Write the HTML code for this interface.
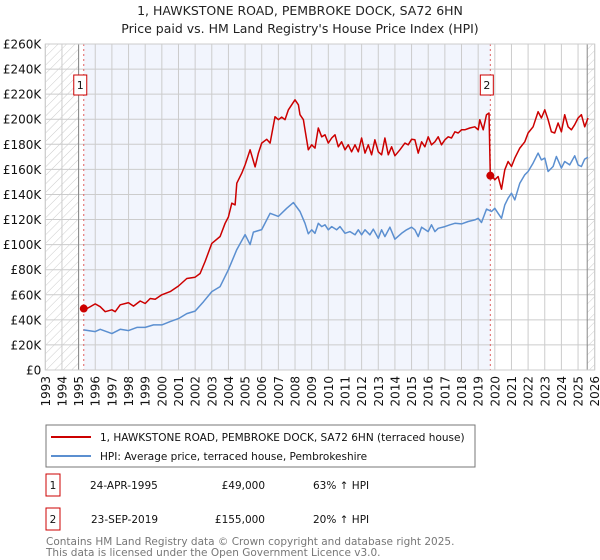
<!DOCTYPE html>
<html><head><meta charset="utf-8"><style>
body{margin:0;background:#fff;width:600px;height:560px;overflow:hidden;font-family:"DejaVu Sans","Liberation Sans",sans-serif;}
svg{display:block}
</style></head><body>
<svg id="chart" width="600" height="560" xmlns="http://www.w3.org/2000/svg">
<defs>
<pattern id="hatch" width="6" height="6" patternUnits="userSpaceOnUse" patternTransform="rotate(45)">
<line x1="0" y1="0" x2="0" y2="6" stroke="#ccc" stroke-width="1"/>
</pattern>
</defs>
<text x="300" y="15" text-anchor="middle" font-size="12.5" fill="#222">1, HAWKSTONE ROAD, PEMBROKE DOCK, SA72 6HN</text>
<text x="300" y="33" text-anchor="middle" font-size="12.5" fill="#222">Price paid vs. HM Land Registry's House Price Index (HPI)</text>
<g id="plot"></g>
<g id="legend">
<rect x="46" y="425" width="429" height="42" fill="#fff" stroke="#777"/>
<line x1="51" y1="437" x2="91" y2="437" stroke="#cc0000" stroke-width="2"/>
<text x="100" y="441" font-size="10.5" fill="#111">1, HAWKSTONE ROAD, PEMBROKE DOCK, SA72 6HN (terraced house)</text>
<line x1="51" y1="456" x2="91" y2="456" stroke="#5b8fd0" stroke-width="2"/>
<text x="100" y="460" font-size="10.5" fill="#111">HPI: Average price, terraced house, Pembrokeshire</text>
</g>
<g font-size="10.5" fill="#111">
<rect x="46" y="474" width="14" height="22" fill="#fff" stroke="#cc0000"/>
<text x="53" y="489" text-anchor="middle">1</text>
<text x="90" y="489">24-APR-1995</text>
<text x="265" y="489" text-anchor="end">£49,000</text>
<text x="313" y="489">63% ↑ HPI</text>
<rect x="46" y="508" width="14" height="22" fill="#fff" stroke="#cc0000"/>
<text x="53" y="523" text-anchor="middle">2</text>
<text x="91" y="523">23-SEP-2019</text>
<text x="265" y="523" text-anchor="end">£155,000</text>
<text x="313" y="523">20% ↑ HPI</text>
</g>
<text x="46" y="545" font-size="10.5" fill="#777">Contains HM Land Registry data © Crown copyright and database right 2025.</text>
<text x="46" y="556" font-size="10.5" fill="#777">This data is licensed under the Open Government Licence v3.0.</text>
</svg>
<script>
const yTicks=[0,20,40,60,80,100,120,140,160,180,200,220,240,260];
const yTickLabels=["£0","£20K","£40K","£60K","£80K","£100K","£120K","£140K","£160K","£180K","£200K","£220K","£240K","£260K"];
const xYears=[1993,1994,1995,1996,1997,1998,1999,2000,2001,2002,2003,2004,2005,2006,2007,2008,2009,2010,2011,2012,2013,2014,2015,2016,2017,2018,2019,2020,2021,2022,2023,2024,2025,2026];
const saleDates=[1995.31,2019.73];
const salePrices=[49,155];
const saleLabels=["1","2"];
const hpiT=[1995.3,1996,1996.3,1997,1997.5,1998,1998.5,1999,1999.5,2000,2000.5,2001,2001.5,2002,2002.5,2003,2003.5,2004,2004.5,2005,2005.3,2005.5,2006,2006.5,2007,2007.5,2007.9,2008.3,2008.6,2008.8,2009,2009.2,2009.4,2009.6,2009.8,2010,2010.2,2010.5,2010.7,2011,2011.3,2011.6,2011.8,2012,2012.2,2012.5,2012.7,2013,2013.2,2013.4,2013.7,2014,2014.4,2014.7,2015,2015.2,2015.4,2015.6,2016,2016.2,2016.4,2016.6,2017,2017.3,2017.6,2018,2018.4,2018.8,2019,2019.2,2019.5,2019.8,2020,2020.2,2020.4,2020.6,2020.8,2021,2021.2,2021.5,2021.8,2022,2022.3,2022.6,2022.8,2023,2023.2,2023.5,2023.7,2024,2024.2,2024.5,2024.8,2025,2025.2,2025.4,2025.6];
const hpiV=[32,30.6,32.5,29,32.5,31.4,34,34,36,36,38.6,41,45,47,54.5,62.5,66.5,80,96,108,100,110,112,125,122.5,129,133.5,126.4,117,108.6,111.8,109,117,114.4,115.8,111.8,114.4,111.8,114.4,109,110.4,107.8,111.8,107.8,111.8,107.8,112.3,105,111.8,106.4,113.9,104.3,109,111.8,113.9,111.8,106.4,113.9,110.4,115.8,110.4,113,114.4,115.8,117,116.5,118.4,119.7,121,117.6,128.3,126.4,129,125,121,131.7,137,141,135.7,149,155.7,158.3,165,173,167.6,169,158.3,162.3,170.3,161,166.3,163.6,170.8,163.6,162.3,168.2,169.8];
const propT=[1995.31,1995.5,1996,1996.3,1996.6,1997,1997.2,1997.5,1998,1998.3,1998.7,1999,1999.3,1999.6,2000,2000.5,2001,2001.5,2002,2002.3,2002.6,2003,2003.5,2003.8,2004,2004.2,2004.4,2004.5,2004.8,2005,2005.3,2005.6,2005.8,2006,2006.3,2006.5,2006.8,2007,2007.2,2007.4,2007.6,2008,2008.2,2008.3,2008.5,2008.6,2008.8,2009,2009.2,2009.4,2009.6,2009.8,2010,2010.2,2010.4,2010.6,2010.8,2011,2011.2,2011.4,2011.6,2011.8,2012,2012.2,2012.4,2012.6,2012.8,2013,2013.2,2013.4,2013.6,2013.8,2014,2014.3,2014.6,2014.8,2015,2015.2,2015.4,2015.6,2015.8,2016,2016.2,2016.4,2016.6,2016.8,2017,2017.2,2017.4,2017.6,2017.8,2018,2018.2,2018.5,2018.8,2019,2019.1,2019.3,2019.5,2019.65,2019.73,2019.8,2020,2020.2,2020.4,2020.6,2020.8,2021,2021.2,2021.5,2021.8,2022,2022.3,2022.6,2022.8,2023,2023.2,2023.4,2023.6,2023.8,2024,2024.2,2024.4,2024.6,2024.8,2025,2025.2,2025.4,2025.6];
const propV=[49,49,52.7,50.5,46.5,48,46.5,52,53.7,51,55,53,57,56.4,60,62.5,67,73,74,77,86.5,101,106.5,117,122,133,131.7,149,157,163.6,175.6,162,173,181,184,181,202,199.6,201.7,199.6,207.5,215.5,211.5,203.6,199.6,191.6,175.6,179.6,177,193,186,187.6,181,185,187.6,178,182,175.6,179.6,174,179.6,174,185,173,179.6,171.6,183.6,174,171.6,185,171.6,178,170.8,175.6,181,179.6,184,183.6,173,182,178,186,179.6,182,186,179.6,183.6,186,185,190,189,191.6,191.6,193,194,191.6,199.6,191.6,203.6,205,155,155.7,151.7,154.3,144.2,159.7,166.3,162.3,169,177,182,189,194,206,201,207.5,199.6,190,189,197,190,203.6,194,191.6,195.6,201,203.6,194,201];

const L=45.3,R=594.7,T=44,B=370,Y0=1993,Y1=2026,VMAX=260;
const xs=t=>L+(t-Y0)*(R-L)/(Y1-Y0);
const ys=v=>B-v*(B-T)/VMAX;
const NS="http://www.w3.org/2000/svg";
const plot=document.getElementById('plot');
function mk(tag,attrs,parent){const e=document.createElementNS(NS,tag);for(const k in attrs)e.setAttribute(k,attrs[k]);(parent||plot).appendChild(e);return e;}

let e;
e=mk('rect',{x:L,y:T,width:R-L,height:B-T,fill:'#fff'});


e=mk('rect',{x:xs(saleDates[0]),y:T,width:xs(saleDates[1])-xs(saleDates[0]),height:B-T,fill:'#f2f5fd'});


e=mk('rect',{x:L,y:T,width:xs(1995)-L,height:B-T,fill:'url(#hatch)'});


e=mk('rect',{x:xs(2025.55),y:T,width:R-xs(2025.55),height:B-T,fill:'url(#hatch)'});



yTicks.forEach((v,i)=>{
  const g=mk('line',{x1:L,x2:R,y1:ys(v),y2:ys(v),stroke:'#ccc','stroke-width':1});
  
  
  const t=mk('text',{x:L-4,y:ys(v)+4.5,'text-anchor':'end','font-size':'12',fill:'#111'});
  t.textContent=yTickLabels[i];
  
  
});
xYears.forEach(yr=>{
  const g=mk('line',{x1:xs(yr),x2:xs(yr),y1:T,y2:B,stroke:'#ccc','stroke-width':1});
  
  
  const t=mk('text',{x:0,y:0,'text-anchor':'end','font-size':'12',fill:'#111',transform:`translate(${xs(yr)+4.5},${B+6}) rotate(-90)`});
  t.textContent=yr;
  
  
});
e=mk('line',{x1:xs(1995),x2:xs(1995),y1:T,y2:B,stroke:'#888','stroke-width':1});


e=mk('line',{x1:xs(2025.55),x2:xs(2025.55),y1:T,y2:B,stroke:'#888','stroke-width':1});


saleDates.forEach((d,i)=>{
  const l=mk('line',{x1:xs(d),x2:xs(d),y1:T,y2:B,stroke:'#e06060','stroke-width':1,'stroke-dasharray':'2,3'});
  
  
});

function path(ts,vs){return ts.map((t,i)=>(i?'L':'M')+xs(t).toFixed(1)+','+ys(vs[i]).toFixed(1)).join('');}
e=mk('path',{d:path(hpiT,hpiV),fill:'none',stroke:'#5b8fd0','stroke-width':1.5,'stroke-linejoin':'round'});


e=mk('path',{d:path(propT,propV),fill:'none',stroke:'#cc0000','stroke-width':1.5,'stroke-linejoin':'round'});



saleDates.forEach((d,i)=>{
  const c=mk('circle',{cx:xs(d),cy:ys(salePrices[i]),r:4,fill:'#cc0000'});
  
  
  const bx=xs(d)-3.5;
  const r=mk('rect',{x:bx-6.5,y:75,width:13,height:20,fill:'#fff',stroke:'#cc0000'});
  
  
  const t=mk('text',{x:bx,y:89,'text-anchor':'middle','font-size':'11',fill:'#111'});
  t.textContent=saleLabels[i];
  
  
});
e=mk('rect',{x:L,y:T,width:R-L,height:B-T,fill:'none',stroke:'#ccc'});


</script>
</body></html>
